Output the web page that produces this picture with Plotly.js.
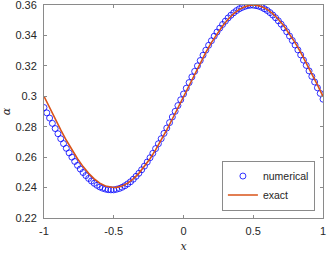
<!DOCTYPE html>
<html>
<head>
<meta charset="utf-8">
<script src="https://cdn.plot.ly/plotly-3.0.1.min.js"></script>
<style>html,body{margin:0;padding:0;background:#fff;}#chart{width:327px;height:253px;}</style>
</head>
<body>
<div id="chart"></div>
<script>
const numericalX = [-1,-0.98,-0.96,-0.94,-0.92,-0.9,-0.88,-0.86,-0.84,-0.82,-0.8,-0.78,-0.76,-0.74,-0.72,-0.7,-0.68,-0.66,-0.64,-0.62,-0.6,-0.58,-0.56,-0.54,-0.52,-0.5,-0.48,-0.46,-0.44,-0.42,-0.4,-0.38,-0.36,-0.34,-0.32,-0.3,-0.28,-0.26,-0.24,-0.22,-0.2,-0.18,-0.16,-0.14,-0.12,-0.1,-0.08,-0.06,-0.04,-0.02,0,0.02,0.04,0.06,0.08,0.1,0.12,0.14,0.16,0.18,0.2,0.22,0.24,0.26,0.28,0.3,0.32,0.34,0.36,0.38,0.4,0.42,0.44,0.46,0.48,0.5,0.52,0.54,0.56,0.58,0.6,0.62,0.64,0.66,0.68,0.7,0.72,0.74,0.76,0.78,0.8,0.82,0.84,0.86,0.88,0.9,0.92,0.94,0.96,0.98,1];
const numericalY = [0.2926,0.2891,0.2857,0.2822,0.2788,0.2754,0.2721,0.2689,0.2658,0.2628,0.2600,0.2572,0.2546,0.2522,0.2499,0.2479,0.2460,0.2443,0.2428,0.2415,0.2404,0.2396,0.2390,0.2386,0.2385,0.2385,0.2389,0.2394,0.2402,0.2412,0.2424,0.2438,0.2455,0.2474,0.2494,0.2517,0.2541,0.2568,0.2596,0.2625,0.2656,0.2688,0.2721,0.2756,0.2791,0.2827,0.2864,0.2901,0.2939,0.2977,0.3015,0.3053,0.3090,0.3127,0.3164,0.3200,0.3235,0.3270,0.3303,0.3335,0.3365,0.3395,0.3422,0.3448,0.3472,0.3494,0.3515,0.3533,0.3549,0.3563,0.3575,0.3584,0.3591,0.3596,0.3599,0.3599,0.3596,0.3592,0.3585,0.3575,0.3564,0.3550,0.3534,0.3516,0.3496,0.3474,0.3450,0.3424,0.3396,0.3367,0.3337,0.3305,0.3272,0.3238,0.3203,0.3167,0.3131,0.3094,0.3056,0.3019,0.2981];
const exactX = [-1,-0.96,-0.92,-0.88,-0.84,-0.8,-0.76,-0.72,-0.68,-0.64,-0.6,-0.56,-0.52,-0.5,-0.48,-0.44,-0.4,-0.36,-0.32,-0.28,-0.24,-0.2,-0.16,-0.12,-0.08,-0.04,0,0.04,0.08,0.12,0.16,0.2,0.24,0.28,0.32,0.36,0.4,0.44,0.48,0.5,0.52,0.56,0.6,0.64,0.68,0.72,0.76,0.8,0.84,0.88,0.92,0.96,1];
const exactY = [0.3,0.29248,0.28508,0.27791,0.27109,0.26473,0.25893,0.25377,0.24934,0.24571,0.24294,0.24106,0.24012,0.24,0.24012,0.24106,0.24294,0.24571,0.24934,0.25377,0.25893,0.26473,0.27109,0.27791,0.28508,0.29248,0.3,0.30752,0.31492,0.32209,0.32891,0.33527,0.34107,0.34623,0.35066,0.35429,0.35706,0.35894,0.35988,0.36,0.35988,0.35894,0.35706,0.35429,0.35066,0.34623,0.34107,0.33527,0.32891,0.32209,0.31492,0.30752,0.3];
const xTickVals = [-1,-0.5,0,0.5,1];
const xTickText = ["-1","-0.5","0","0.5","1"];
const yTickVals = [0.22,0.24,0.26,0.28,0.3,0.32,0.34,0.36];
const yTickText = ["0.22","0.24","0.26","0.28","0.3","0.32","0.34","0.36"];
const seriesNames = ["numerical","exact"];

const axisCol = '#8a8a8a';
const txtCol = '#262626';
const fontFam = 'Liberation Sans, Arial, Helvetica, sans-serif';

const traces = [
  {x: numericalX, y: numericalY, type: 'scatter', mode: 'markers', name: seriesNames[0],
   marker: {symbol: 'circle-open', size: 6, color: '#0000ff', line: {width: 0.8, color: '#0000ff'}}},
  {x: exactX, y: exactY, type: 'scatter', mode: 'lines', name: seriesNames[1],
   line: {color: '#D95319', width: 1.6}}
];

const axisCommon = {
  showgrid: false, zeroline: false, showline: true, linecolor: axisCol, linewidth: 1,
  mirror: 'ticks', ticks: 'inside', ticklen: 3, tickcolor: axisCol, tickwidth: 1,
  tickmode: 'array', ticklabeloverflow: 'allow',
  tickfont: {family: fontFam, size: 11, color: txtCol}
};

const layout = {
  width: 327, height: 253,
  margin: {l: 44, r: 4, t: 5, b: 35, pad: 0},
  paper_bgcolor: '#fff', plot_bgcolor: '#fff',
  showlegend: true,
  legend: {x: 0.971, y: 0.035, xanchor: 'right', yanchor: 'bottom',
    bgcolor: '#fff', bordercolor: '#8a8a8a', borderwidth: 1,
    font: {family: fontFam, size: 10.5, color: txtCol},
    tracegroupgap: 0, itemwidth: 30},
  xaxis: Object.assign({}, axisCommon, {
    range: [-1, 1], tickvals: xTickVals, ticktext: xTickText, ticklabelstandoff: 3,
    title: {text: '<i>x</i>', font: {family: 'DejaVu Serif, serif', size: 11, color: txtCol}, standoff: 6}
  }),
  yaxis: Object.assign({}, axisCommon, {
    range: [0.22, 0.3600001], tickvals: yTickVals, ticktext: yTickText, ticklabelstandoff: 4,
    title: {text: '<i>α</i>', font: {family: 'DejaVu Serif, serif', size: 11, color: txtCol}, standoff: 3}
  })
};

Plotly.newPlot('chart', traces, layout, {displayModeBar: false, staticPlot: true});
</script>
</body>
</html>
